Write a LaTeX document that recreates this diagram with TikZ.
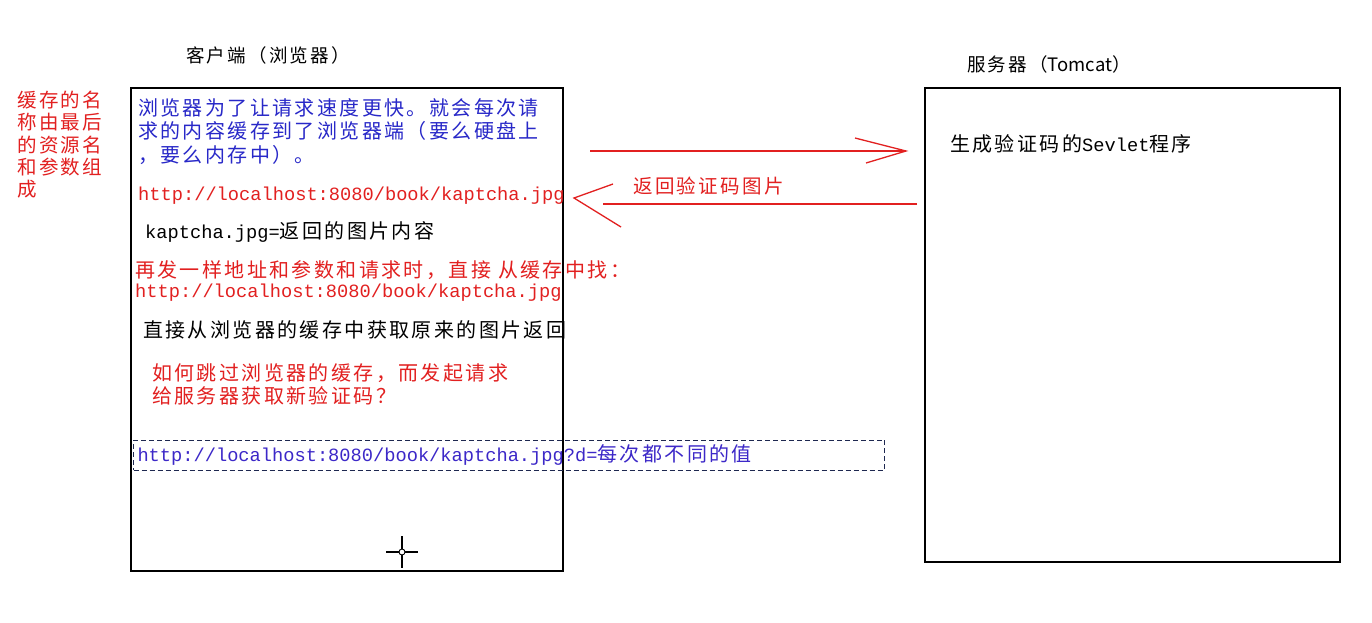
\documentclass[tikz,border=0pt]{standalone}
\usepackage{fontspec}
\setmainfont[LetterSpace=12]{Noto Sans CJK SC}
\newfontfamily\monofam{Liberation Mono}
\newfontfamily\plainfam{Noto Sans CJK SC}
\usetikzlibrary{calc}
\definecolor{noteRed}{RGB}{226,32,32}
\definecolor{noteBlue}{RGB}{40,40,200}
\definecolor{dynBlue}{RGB}{60,40,200}
\definecolor{dashNavy}{RGB}{30,40,80}
\newcommand\fsTitle{\fontsize{18.5}{22}\selectfont}
\newcommand\fsBody{\fontsize{20}{23.5}\selectfont}
\newcommand\fsNote{\fontsize{19.5}{22.3}\selectfont}
\newcommand\fsUrl{\monofam\fontsize{18.7}{20}\selectfont}
\tikzset{
  txt/.style={inner sep=0pt, anchor=west},
  mtxt/.style={inner sep=0pt, anchor=north west, align=left},
  boxframe/.style={draw=black, line width=1.1pt, inner sep=0pt},
  redline/.style={draw=noteRed, line width=1.3pt},
}
\begin{document}
\begin{tikzpicture}[x=1pt,y=-1pt]
\useasboundingbox[fill=white] (0,0) rectangle (1372,622);
% boxes
\node[boxframe, minimum width=432pt, minimum height=483pt] (client) at (347,329.5) {};
\node[boxframe, minimum width=415pt, minimum height=474pt] (server) at (1132.5,325) {};
% titles
\node[inner sep=0pt] (clientTitle) at (268,55) {\fsTitle 客户端（浏览器）};
\node[inner sep=0pt] (serverTitle) at (1049,64) {\fsTitle 服务器（{\plainfam Tomcat}）};
% left note
\node[mtxt, text=noteRed, font=\fsNote] (leftNote) at (17,91) {缓存的名\\称由最后\\的资源名\\和参数组\\成};
% client texts
\node[mtxt, text=noteBlue, font=\fsBody] (blueNote) at (138,98) {浏览器为了让请求速度更快。就会每次请\\求的内容缓存到了浏览器端（要么硬盘上\\，要么内存中）。};
\node[txt, text=noteRed] (url1) at (138,196) {\fsUrl http://localhost:8080/book/kaptcha.jpg};
\node[txt] (content) at (145,232) {{\fsUrl kaptcha.jpg=}{\fsBody 返回的图片内容}};
\node[txt, text=noteRed] (again) at (135,270) {\fsBody 再发一样地址和参数和请求时，直接 从缓存中找：};
\node[txt, text=noteRed] (url2) at (135,293) {\fsUrl http://localhost:8080/book/kaptcha.jpg};
\node[txt] (direct) at (143,330) {\fsBody 直接从浏览器的缓存中获取原来的图片返回};
\node[mtxt, text=noteRed, font=\fsBody] (how) at (152,363) {如何跳过浏览器的缓存，而发起请求\\给服务器获取新验证码？};
\node[draw=dashNavy, dashed, dash pattern=on 5pt off 3pt, line width=1pt, anchor=west,
      inner xsep=4pt, inner ysep=0pt, minimum height=30pt, text width=743pt, align=left,
      text=dynBlue] (dyn) at (133,455)
      {{\fsUrl http://localhost:8080/book/kaptcha.jpg?d=}{\fsBody 每次都不同的值}};
% server text
\node[txt] (servlet) at (950,144) {{\fsBody 生成验证码的}{\fsUrl Sevlet}{\fsBody 程序}};
% return label
\node[txt, text=noteRed] (retLabel) at (633,186) {\fsNote 返回验证码图片};
% request arrow
\coordinate (reqStart) at (590,151);
\coordinate (reqTip) at (906,151);
\coordinate (reqBarbA) at (855,138);
\coordinate (reqBarbB) at (866,163);
\draw[redline] (reqStart) -- (reqTip);
\draw[redline] (reqBarbA) -- (reqTip) -- (reqBarbB);
% response arrow
\coordinate (resStart) at (917,204);
\coordinate (resEnd) at (603,204);
\coordinate (resTip) at (574,198);
\coordinate (resBarbA) at (613,184);
\coordinate (resBarbB) at (621,227);
\draw[redline] (resStart) -- (resEnd);
\draw[redline] (resBarbA) -- (resTip) -- (resBarbB);
% cursor
\coordinate (cur) at (402,552);
\draw[line width=1.2pt] ($(cur)+(-16,0)$) -- ($(cur)+(16,0)$);
\draw[line width=1.2pt] ($(cur)+(0,-16)$) -- ($(cur)+(0,16)$);
\draw[line width=0.9pt, fill=white] (cur) circle (3pt);
\end{tikzpicture}
\end{document}
